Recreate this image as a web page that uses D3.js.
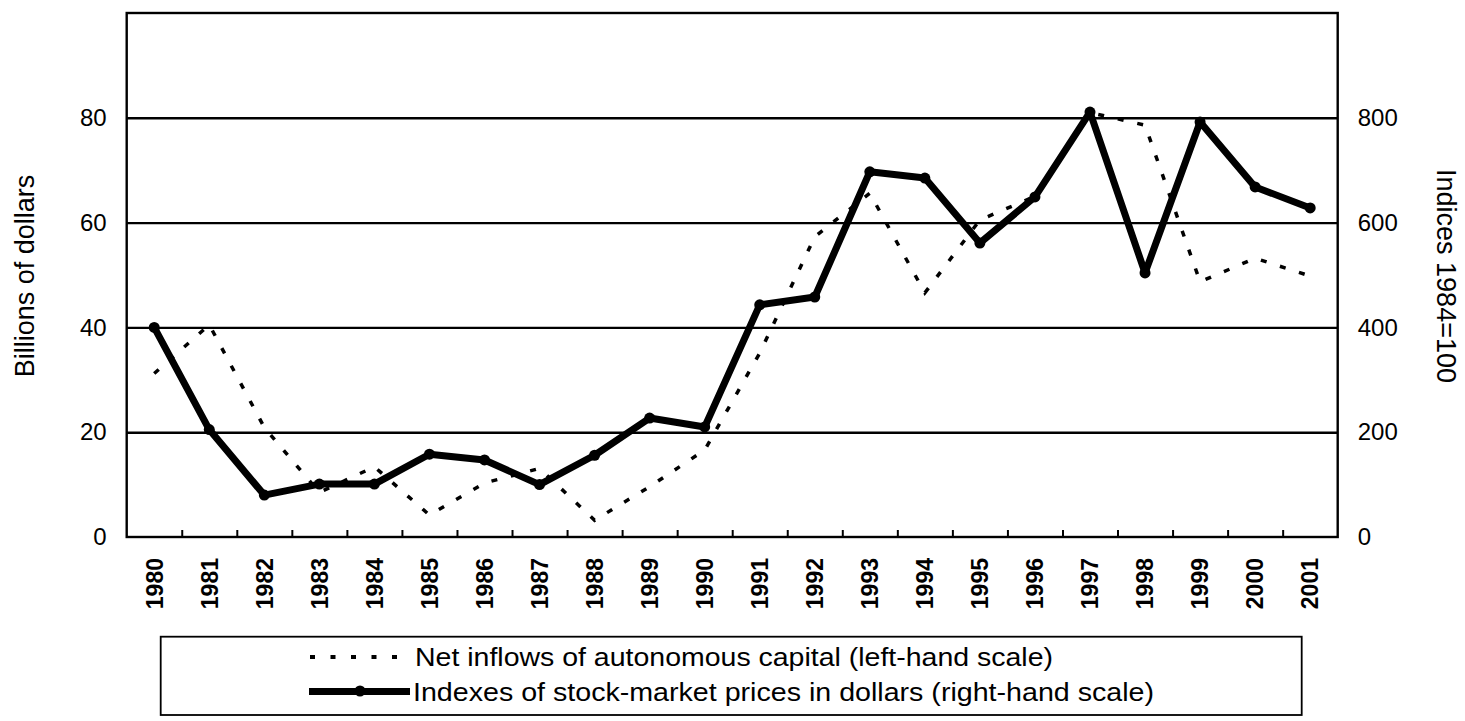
<!DOCTYPE html>
<html>
<head>
<meta charset="utf-8">
<script src="https://cdn.jsdelivr.net/npm/d3@7"></script>
<style>
  body { margin: 0; background: #fff; }
  text { font-family: "Liberation Sans", Arial, sans-serif; fill: #000; }
</style>
</head>
<body>
<div id="chart"></div>
<script>
// data
var years = ["1980", "1981", "1982", "1983", "1984", "1985", "1986", "1987", "1988", "1989", "1990",
    "1991", "1992", "1993", "1994", "1995", "1996", "1997", "1998", "1999", "2000", "2001"];

// net inflows of autonomous capital, billions of dollars (left-hand scale)
var netInflows = [31.2, 40.5, 20.9, 8.5, 13.4, 4.2, 10.3, 13.1, 3.2, 9.6, 16.6,
    35.1, 57.3, 65.6, 46.6, 60.5, 65, 81, 78.6, 48.7, 53.2, 49.8];

// indexes of stock-market prices in dollars, 1984=100 (right-hand scale)
var stockIndex = [400, 205, 80, 101, 101, 158, 147, 100, 156, 227, 210,
    443, 458, 697, 685, 561, 649, 811, 504, 792, 668, 628];

var leftTicks = [0, 20, 40, 60, 80];
var rightTicks = [0, 200, 400, 600, 800];

var legendLabels = ["Net inflows of autonomous capital (left-hand scale)",
    "Indexes of stock-market prices in dollars (right-hand scale)"];

// set the dimensions of the plot area
var W = 1465, H = 721;
var plot = { left: 126.7, right: 1337.7, top: 13, bottom: 537 };
var width = plot.right - plot.left,
    height = plot.bottom - plot.top;

var svg = d3.select("#chart")
    .append("svg")
    .attr("width", W)
    .attr("height", H);

var g = svg.append("g")
    .attr("transform", "translate(" + plot.left + "," + plot.top + ")");

// scales
var x = d3.scaleBand()
    .domain(years)
    .range([0, width])
    .padding(0);

var yL = d3.scaleLinear().domain([0, 100]).range([height, 0]);
var yR = d3.scaleLinear().domain([0, 1000]).range([height, 0]);

// horizontal gridlines
var grid = g.append("g")
    .attr("class", "grid")
    .call(d3.axisLeft(yL)
        .tickValues([20, 40, 60, 80])
        .tickSize(-width)
        .tickFormat(""));
grid.select(".domain").remove();
grid.selectAll("line").attr("stroke", "#000").attr("stroke-width", 2.4);

// left axis labels
var leftAxis = g.append("g")
    .call(d3.axisLeft(yL).tickValues(leftTicks).tickSize(0).tickPadding(20));
leftAxis.select(".domain").remove();
leftAxis.selectAll("text")
    .style("font-size", "24px")
    .style("font-family", "Liberation Sans, Arial, sans-serif")
    .attr("fill", "#000");

// right axis labels
var rightAxis = g.append("g")
    .attr("transform", "translate(" + width + ",0)")
    .call(d3.axisRight(yR).tickValues(rightTicks).tickSize(0).tickPadding(20));
rightAxis.select(".domain").remove();
rightAxis.selectAll("text")
    .style("font-size", "24px")
    .style("font-family", "Liberation Sans, Arial, sans-serif")
    .attr("fill", "#000");

// small inward ticks between the years
var xIdx = d3.scaleLinear().domain([0, years.length]).range([0, width]);
var bottomTicks = g.append("g")
    .attr("transform", "translate(0," + height + ")")
    .call(d3.axisBottom(xIdx)
        .tickValues(d3.range(1, years.length))
        .tickSize(-7)
        .tickFormat(""));
bottomTicks.select(".domain").remove();
bottomTicks.selectAll("line").attr("stroke", "#000").attr("stroke-width", 2);

// year labels, rotated
g.selectAll(".year")
    .data(years)
    .enter()
    .append("text")
    .attr("class", "year")
    .attr("transform", function (d) {
        return "translate(" + (x(d) + x.bandwidth() / 2) + "," + (height + 21) + ") rotate(-90)";
    })
    .attr("dy", "0.36em")
    .style("text-anchor", "end")
    .style("font-size", "23px")
    .style("font-weight", "bold")
    .text(function (d) { return d; });

// frame around the plot
g.append("rect")
    .attr("width", width)
    .attr("height", height)
    .attr("fill", "none")
    .attr("stroke", "#000")
    .attr("stroke-width", 2.4);

// dashed line: net inflows
var lineL = d3.line()
    .x(function (d, i) { return x(years[i]) + x.bandwidth() / 2; })
    .y(function (d) { return yL(d); });

g.append("path")
    .datum(netInflows)
    .attr("d", lineL)
    .attr("fill", "none")
    .attr("stroke", "#000")
    .attr("stroke-width", 3.5)
    .attr("stroke-dasharray", "6,14");

// solid line: stock index
var lineR = d3.line()
    .x(function (d, i) { return x(years[i]) + x.bandwidth() / 2; })
    .y(function (d) { return yR(d); });

g.append("path")
    .datum(stockIndex)
    .attr("d", lineR)
    .attr("fill", "none")
    .attr("stroke", "#000")
    .attr("stroke-width", 7)
    .attr("stroke-linejoin", "round")
    .attr("stroke-linecap", "round");

g.selectAll(".dot")
    .data(stockIndex)
    .enter()
    .append("circle")
    .attr("class", "dot")
    .attr("cx", function (d, i) { return x(years[i]) + x.bandwidth() / 2; })
    .attr("cy", function (d) { return yR(d); })
    .attr("r", 5.5)
    .attr("fill", "#000");

// axis titles
svg.append("text")
    .attr("transform", "translate(25,276) rotate(-90)")
    .attr("dy", "0.35em")
    .style("text-anchor", "middle")
    .style("font-size", "27px")
    .text("Billions of dollars");

svg.append("text")
    .attr("transform", "translate(1446,276) rotate(90)")
    .attr("dy", "0.35em")
    .style("text-anchor", "middle")
    .style("font-size", "27px")
    .text("Indices 1984=100");

// legend
var legend = svg.append("g");
legend.append("rect")
    .attr("x", 160.7)
    .attr("y", 636.7)
    .attr("width", 1141)
    .attr("height", 78.3)
    .attr("fill", "none")
    .attr("stroke", "#000")
    .attr("stroke-width", 1.8);

legend.append("line")
    .attr("x1", 310).attr("x2", 397)
    .attr("y1", 657).attr("y2", 657)
    .attr("stroke", "#000")
    .attr("stroke-width", 4)
    .attr("stroke-dasharray", "5,15.5");

legend.append("line")
    .attr("x1", 309).attr("x2", 410)
    .attr("y1", 691.5).attr("y2", 691.5)
    .attr("stroke", "#000")
    .attr("stroke-width", 7);
legend.append("circle")
    .attr("cx", 360).attr("cy", 691)
    .attr("r", 5.5)
    .attr("fill", "#000");

var legendWidths = [638, 741];
legend.selectAll(".legend-text")
    .data(legendLabels)
    .enter()
    .append("text")
    .attr("class", "legend-text")
    .attr("x", function (d, i) { return i === 0 ? 415 : 413; })
    .attr("y", function (d, i) { return i === 0 ? 666 : 700.5; })
    .attr("textLength", function (d, i) { return legendWidths[i]; })
    .attr("lengthAdjust", "spacingAndGlyphs")
    .style("font-size", "25px")
    .text(function (d) { return d; });
</script>
</body>
</html>
